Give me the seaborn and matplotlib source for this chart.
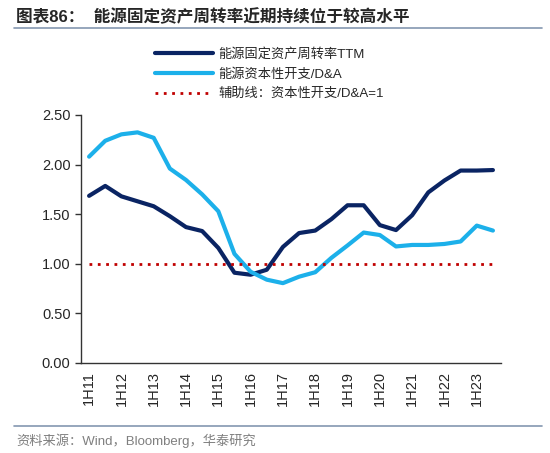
import pandas as pd
import numpy as np
import matplotlib.pyplot as plt
import matplotlib.lines as mlines
import seaborn as sns

sns.set_theme(style="white")
plt.rcParams['font.family'] = ['Liberation Sans', 'Noto Sans CJK SC', 'DejaVu Sans']
plt.rcParams['axes.unicode_minus'] = False

# half-year periods 1H11 .. 2H23
periods = [f"{h}H{y}" for y in range(11, 24) for h in (1, 2)]
turnover_ttm = [1.685, 1.785, 1.68, 1.63, 1.58, 1.48, 1.37, 1.33, 1.16, 0.91,
                0.89, 0.94, 1.17, 1.31, 1.335, 1.45, 1.59, 1.59, 1.39, 1.34,
                1.49, 1.72, 1.84, 1.94, 1.94, 1.945]
capex_da = [2.08, 2.24, 2.305, 2.325, 2.27, 1.96, 1.845, 1.70, 1.53, 1.10,
            0.92, 0.84, 0.805, 0.87, 0.915, 1.06, 1.185, 1.315, 1.29, 1.175,
            1.19, 1.19, 1.20, 1.225, 1.385, 1.335]
helper = [1.0] * len(periods)

names = ["能源固定资产周转率TTM", "能源资本性开支/D&A", "辅助线：资本性开支/D&A=1"]
colors = ["#0a2463", "#1cb0ea", "#c00000"]

df = pd.DataFrame({"idx": np.arange(len(periods)), "period": periods,
                   names[0]: turnover_ttm, names[1]: capex_da, names[2]: helper})
long = df.melt(id_vars=["idx", "period"], var_name="series", value_name="value")

fig = plt.figure(figsize=(5.5, 4.53), dpi=100)
ax = fig.add_axes([81 / 550, 1 - 363 / 453, 420 / 550, 248 / 453])

sns.lineplot(data=long[long.series == names[0]], x="idx", y="value",
             color=colors[0], lw=3, ax=ax, legend=False)
sns.lineplot(data=long[long.series == names[1]], x="idx", y="value",
             color=colors[1], lw=3, ax=ax, legend=False)
sns.lineplot(data=long[long.series == names[2]], x="idx", y="value",
             color=colors[2], lw=2, ls=(0, (1, 2)), ax=ax, legend=False)

ax.set_xlim(-0.5, len(periods) - 0.5)
ax.set_ylim(0, 2.5)
ax.set_yticks(np.arange(0, 2.51, 0.5))
ax.set_yticklabels([f"{v:.2f}" for v in np.arange(0, 2.51, 0.5)], fontsize=10.5)
ax.set_xticks(df.idx[::2])
ax.set_xticklabels(df.period[::2], rotation=90, fontsize=10.5)
ax.set_xticks(np.arange(-0.5, len(periods), 1), minor=True)
ax.tick_params(axis="x", which="major", length=0, pad=6)
ax.tick_params(axis="x", which="minor", length=4, width=1, color="#333333", direction="out")
ax.tick_params(axis="y", length=4, width=1, color="#333333", direction="out", left=True)
ax.set_xlabel("")
ax.set_ylabel("")
for s in ["top", "right"]:
    ax.spines[s].set_visible(False)
for s in ["left", "bottom"]:
    ax.spines[s].set_color("#333333")
    ax.spines[s].set_linewidth(1)

handles = [mlines.Line2D([], [], color=colors[0], lw=3),
           mlines.Line2D([], [], color=colors[1], lw=3),
           mlines.Line2D([], [], color=colors[2], lw=2, ls=(0, (1, 2)))]
fig.legend(handles, names, loc="upper left", bbox_to_anchor=(155 / 550, 1 - 48 / 453),
           frameon=False, fontsize=9.5, handlelength=4.4, handletextpad=0.4,
           labelspacing=0.55, borderpad=0, borderaxespad=0)

fig.text(16 / 550, 1 - 17 / 453, "图表86：  能源固定资产周转率近期持续位于较高水平",
         fontsize=12, fontweight="bold", va="center", ha="left")
fig.add_artist(mlines.Line2D([14 / 550, 542 / 550], [1 - 28 / 453] * 2,
                             color="#8497b0", lw=1.2))
fig.add_artist(mlines.Line2D([14 / 550, 542 / 550], [1 - 426 / 453] * 2,
                             color="#8497b0", lw=1.2))
fig.text(16 / 550, 1 - 441 / 453, "资料来源：Wind，Bloomberg，华泰研究",
         fontsize=9.5, color="#7f7f7f", va="center", ha="left")

fig.savefig("out.png", dpi=100)
